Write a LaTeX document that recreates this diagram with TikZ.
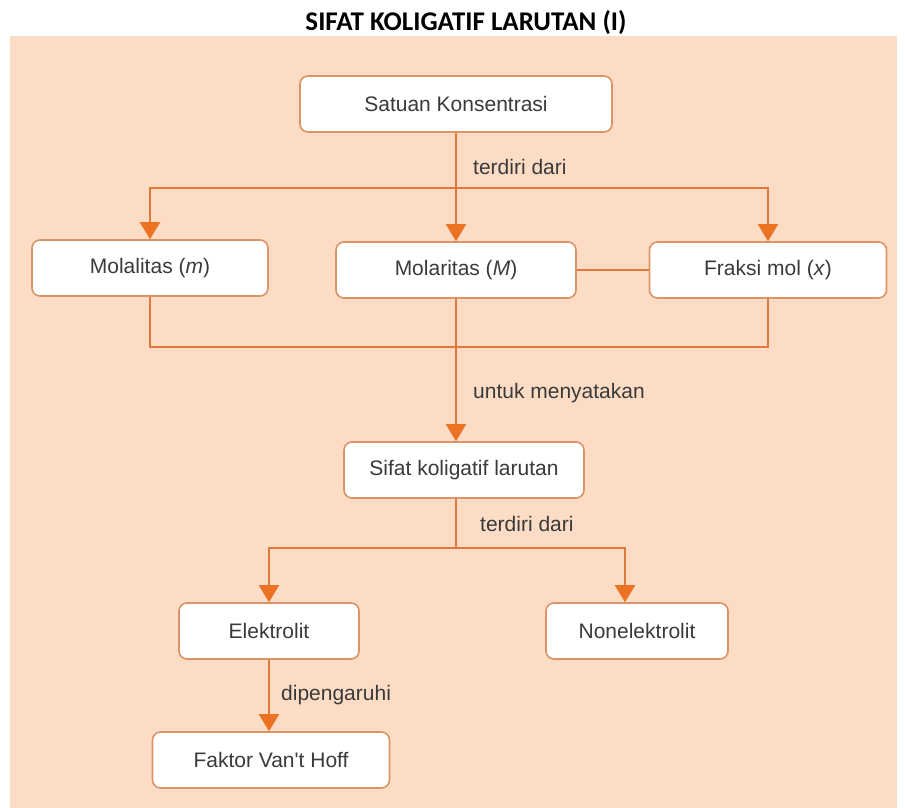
\documentclass[tikz,border=0pt]{standalone}
\usepackage{fontspec}
\setmainfont{Liberation Sans}
\newfontfamily\judulfont{Carlito}
\usetikzlibrary{arrows.meta}
\definecolor{peach}{HTML}{FCDCC4}
\definecolor{garis}{HTML}{E07A3C}
\definecolor{ujung}{HTML}{EC7224}
\definecolor{tepi}{HTML}{DC9466}
\definecolor{teks}{HTML}{3A3A3A}
\tikzset{
	konsep/.style={draw=tepi, line width=1.6pt, fill=white, rounded corners=8pt,
		minimum width=#1, minimum height=56pt, inner sep=0pt, text=teks,
		font=\fontsize{21}{24}\selectfont},
	hub/.style={draw=garis, line width=2pt},
	panah/.style={hub, -{Triangle[width=20pt,length=17pt,color=ujung]}},
	ket/.style={anchor=west, inner sep=0pt, text=teks, font=\fontsize{21}{24}\selectfont}
}
\begin{document}
\begin{tikzpicture}[x=1pt, y=-1pt]
		\useasboundingbox (0,0) rectangle (905,808);
		\fill[peach] (10,36) rectangle (897,808);
		\node (judul) at (466,23) {\judulfont\bfseries\fontsize{27}{31}\selectfont SIFAT KOLIGATIF LARUTAN (I)};
		% konsep
		\node[konsep=312pt] (satuan) at (456,104) {Satuan Konsentrasi};
		\node[konsep=236pt] (molal) at (150,268) {Molalitas (\textit{m})};
		\node[konsep=240pt] (molar) at (456,270) {Molaritas (\textit{M})};
		\node[konsep=237pt] (fraksi) at (768,270) {Fraksi mol (\textit{x})};
		\node[konsep=240pt] (sifat) at (464,470) {Sifat koligatif larutan};
		\node[konsep=180pt] (elektro) at (269,631) {Elektrolit};
		\node[konsep=182pt] (nonelek) at (637,631) {Nonelektrolit};
		\node[konsep=237pt] (faktor) at (271,760) {Faktor Van\textquotesingle t Hoff};
		% titik cabang
		\coordinate (c1) at (456,188);
		\coordinate (c2) at (456,347);
		\coordinate (c3) at (456,548);
		% garis
		\draw[hub] (satuan) -- (c1);
		\draw[panah] (c1) -| (molal);
		\draw[panah] (c1) -- (molar);
		\draw[panah] (c1) -| (fraksi);
		\draw[hub] (molar) -- (fraksi);
		\draw[hub] (molal.south) |- (c2) -| (fraksi.south);
		\draw[panah] (molar.south) -- (sifat.north -| molar.south);
		\draw[hub] (sifat.south -| c3) -- (c3);
		\draw[panah] (c3) -| (elektro);
		\draw[panah] (c3) -| ([xshift=-12pt]nonelek.north);
		\draw[panah] (elektro) -- (faktor.north -| elektro);
		% keterangan
		\node[ket] (ket1) at (473,167) {terdiri dari};
		\node[ket] (ket2) at (473,393) {untuk menyatakan};
		\node[ket] (ket3) at (480,524) {terdiri dari};
		\node[ket] (ket4) at (281,695) {dipengaruhi};
\end{tikzpicture}
\end{document}
